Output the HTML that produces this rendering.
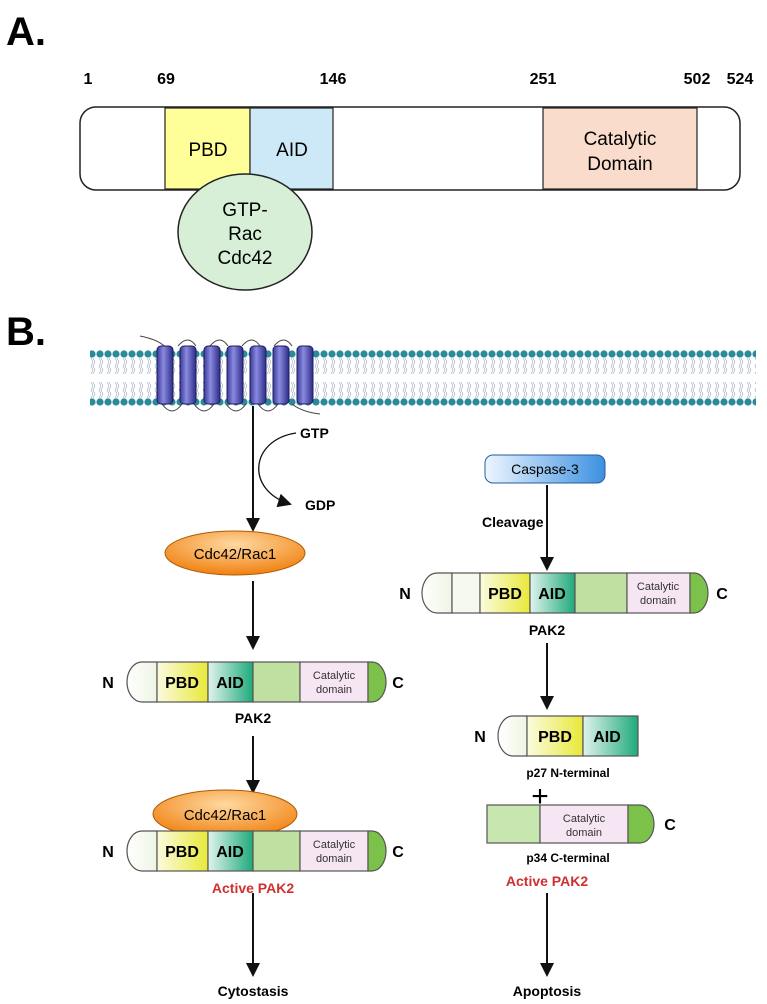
<!DOCTYPE html>
<html><head><meta charset="utf-8"><style>body{margin:0;background:#fff}svg{display:block}text{font-family:"Liberation Sans",sans-serif}</style></head><body>
<svg width="767" height="1004" viewBox="0 0 767 1004" xmlns="http://www.w3.org/2000/svg">
<defs>
<linearGradient id="pbd" x1="0" x2="1"><stop offset="0" stop-color="#fbfbe0"/><stop offset="1" stop-color="#e8e83a"/></linearGradient>
<linearGradient id="aid" x1="0" x2="1"><stop offset="0" stop-color="#e0f3ee"/><stop offset="1" stop-color="#1faa7a"/></linearGradient>
<linearGradient id="nt" x1="0" x2="1"><stop offset="0" stop-color="#fff"/><stop offset="1" stop-color="#eef5e4"/></linearGradient>
<radialGradient id="org" cx="0.5" cy="0.3" r="0.7"><stop offset="0" stop-color="#ffd9a0"/><stop offset="1" stop-color="#f08010"/></radialGradient>
<linearGradient id="casp" x1="0" x2="1"><stop offset="0" stop-color="#eef6ff"/><stop offset="1" stop-color="#3c90e0"/></linearGradient>
<linearGradient id="cyl" x1="0" x2="1"><stop offset="0" stop-color="#3a3a9a"/><stop offset="0.4" stop-color="#8a8ae0"/><stop offset="1" stop-color="#2c2c88"/></linearGradient>
<marker id="ah" markerWidth="14" markerHeight="14" refX="12" refY="7" orient="auto" markerUnits="userSpaceOnUse" viewBox="0 0 14 14"><path d="M0,0 L14,7 L0,14 z" fill="#111"/></marker>
<pattern id="lip" x="0" y="348" width="8" height="60" patternUnits="userSpaceOnUse">
<circle cx="4" cy="6" r="3.6" fill="#2a8a9a"/><circle cx="4" cy="54" r="3.6" fill="#2a8a9a"/>
<path d="M3,10 l2,4 l-2,4 l2,4 l-2,4 M5,10 l2,4 l-2,4 l2,4 l-2,4 M3,50 l2,-4 l-2,-4 l2,-4 l-2,-4 M5,50 l2,-4 l-2,-4 l2,-4 l-2,-4" stroke="#9ab" stroke-width="0.6" fill="none"/>
</pattern>
</defs>
<!-- A -->
<text x="6" y="45" font-size="40" font-weight="bold">A.</text>
<g font-size="16" font-weight="bold" text-anchor="middle">
<text x="88" y="84">1</text><text x="166" y="84">69</text><text x="333" y="84">146</text><text x="543" y="84">251</text><text x="697" y="84">502</text><text x="740" y="84">524</text></g>
<rect x="80" y="107" width="660" height="83" rx="16" fill="#fff" stroke="#222" stroke-width="1.5"/>
<rect x="165" y="108" width="85" height="81" fill="#ffff99" stroke="#222" stroke-width="1.2"/>
<rect x="250" y="108" width="83" height="81" fill="#cde9f8" stroke="#222" stroke-width="1.2"/>
<rect x="543" y="108" width="154" height="81" fill="#f9dccb" stroke="#222" stroke-width="1.2"/>
<g font-size="19" text-anchor="middle"><text x="208" y="156">PBD</text><text x="292" y="156">AID</text><text x="620" y="145">Catalytic</text><text x="620" y="170">Domain</text></g>
<ellipse cx="245" cy="232" rx="67" ry="58" fill="#d6efd6" stroke="#222" stroke-width="1.5"/>
<g font-size="19" text-anchor="middle"><text x="245" y="216">GTP-</text><text x="245" y="240">Rac</text><text x="245" y="264">Cdc42</text></g>
<!-- B -->
<text x="6" y="345" font-size="40" font-weight="bold">B.</text>
<rect x="90" y="348" width="666" height="60" fill="url(#lip)"/>
<path d="M140,336 q20,4 26,12 M178,346 q10,-12 18,0 M210,346 q10,-12 18,0 M242,346 q10,-12 18,0 M274,346 q10,-12 18,0 M162,404 q10,14 20,0 M194,404 q10,14 20,0 M226,404 q10,14 20,0 M258,404 q10,14 20,0 M292,404 q10,8 28,10" stroke="#444" stroke-width="1" fill="none"/>
<g stroke="#1c1c5c" stroke-width="1">
<rect x="157" y="346" width="16" height="58" rx="4" fill="url(#cyl)"/><rect x="180" y="346" width="16" height="58" rx="4" fill="url(#cyl)"/><rect x="204" y="346" width="16" height="58" rx="4" fill="url(#cyl)"/><rect x="227" y="346" width="16" height="58" rx="4" fill="url(#cyl)"/><rect x="250" y="346" width="16" height="58" rx="4" fill="url(#cyl)"/><rect x="273" y="346" width="16" height="58" rx="4" fill="url(#cyl)"/><rect x="297" y="346" width="16" height="58" rx="4" fill="url(#cyl)"/></g>
<g stroke="#111" stroke-width="2" fill="none">
<line x1="253" y1="406" x2="253" y2="530" marker-end="url(#ah)"/>
<path d="M296,433 C250,440 245,490 290,504" stroke-width="1.3" marker-end="url(#ah)"/>
<line x1="253" y1="581" x2="253" y2="648" marker-end="url(#ah)"/>
<line x1="253" y1="736" x2="253" y2="792" marker-end="url(#ah)"/>
<line x1="253" y1="893" x2="253" y2="975" marker-end="url(#ah)"/>
<line x1="547" y1="485" x2="547" y2="569" marker-end="url(#ah)"/>
<line x1="547" y1="643" x2="547" y2="708" marker-end="url(#ah)"/>
<line x1="547" y1="893" x2="547" y2="975" marker-end="url(#ah)"/>
</g>
<g font-size="14" font-weight="bold"><text x="300" y="438">GTP</text><text x="305" y="510">GDP</text></g>
<ellipse cx="235" cy="553" rx="70" ry="22" fill="url(#org)" stroke="#b05a00"/>
<text x="235" y="559" font-size="15" text-anchor="middle">Cdc42/Rac1</text>
<!-- bar 1 -->
<g stroke="#555" stroke-width="1.2">
<path d="M142,662 H157 V702 H142 A15,20 0 0 1 127,682 A15,20 0 0 1 142,662 Z" fill="url(#nt)"/>
<rect x="157" y="662" width="51" height="40" fill="url(#pbd)"/><rect x="208" y="662" width="45" height="40" fill="url(#aid)"/>
<rect x="253" y="662" width="47" height="40" fill="#bfe0a0"/><rect x="300" y="662" width="68" height="40" fill="#f6e6f4"/>
<path d="M368,662 H372 A14,20 0 0 1 372,702 H368 Z" fill="#7cc24a"/></g>
<g font-size="16" font-weight="bold" text-anchor="middle"><text x="182" y="688">PBD</text><text x="230" y="688">AID</text><text x="108" y="688">N</text><text x="398" y="688">C</text><text x="253" y="723" font-size="14">PAK2</text></g>
<g font-size="11" text-anchor="middle" fill="#333"><text x="334" y="679">Catalytic</text><text x="334" y="693">domain</text></g>
<!-- bar 2 -->
<ellipse cx="225" cy="814" rx="72" ry="24" fill="url(#org)" stroke="#b05a00"/>
<text x="225" y="820" font-size="15" text-anchor="middle">Cdc42/Rac1</text>
<g stroke="#555" stroke-width="1.2">
<path d="M142,831 H157 V871 H142 A15,20 0 0 1 127,851 A15,20 0 0 1 142,831 Z" fill="url(#nt)"/>
<rect x="157" y="831" width="51" height="40" fill="url(#pbd)"/><rect x="208" y="831" width="45" height="40" fill="url(#aid)"/>
<rect x="253" y="831" width="47" height="40" fill="#bfe0a0"/><rect x="300" y="831" width="68" height="40" fill="#f6e6f4"/>
<path d="M368,831 H372 A14,20 0 0 1 372,871 H368 Z" fill="#7cc24a"/></g>
<g font-size="16" font-weight="bold" text-anchor="middle"><text x="182" y="857">PBD</text><text x="230" y="857">AID</text><text x="108" y="857">N</text><text x="398" y="857">C</text><text x="253" y="893" font-size="14" fill="#d03030">Active PAK2</text><text x="253" y="996" font-size="14">Cytostasis</text></g>
<g font-size="11" text-anchor="middle" fill="#333"><text x="334" y="848">Catalytic</text><text x="334" y="862">domain</text></g>
<!-- right -->
<rect x="485" y="455" width="120" height="28" rx="8" fill="url(#casp)" stroke="#2a5a9a"/>
<text x="545" y="474" font-size="14" text-anchor="middle">Caspase-3</text>
<text x="482" y="527" font-size="14" font-weight="bold">Cleavage</text>
<g stroke="#555" stroke-width="1.2">
<path d="M437,573 H452 V613 H437 A15,20 0 0 1 422,593 A15,20 0 0 1 437,573 Z" fill="url(#nt)"/>
<rect x="452" y="573" width="28" height="40" fill="#f5f9ee"/>
<rect x="480" y="573" width="50" height="40" fill="url(#pbd)"/><rect x="530" y="573" width="45" height="40" fill="url(#aid)"/>
<rect x="575" y="573" width="52" height="40" fill="#bfe0a0"/><rect x="627" y="573" width="63" height="40" fill="#f6e6f4"/>
<path d="M690,573 H694 A14,20 0 0 1 694,613 H690 Z" fill="#7cc24a"/></g>
<g font-size="16" font-weight="bold" text-anchor="middle"><text x="505" y="599">PBD</text><text x="552" y="599">AID</text><text x="405" y="599">N</text><text x="722" y="599">C</text><text x="547" y="635" font-size="14">PAK2</text></g>
<g font-size="11" text-anchor="middle" fill="#333"><text x="658" y="590">Catalytic</text><text x="658" y="604">domain</text></g>
<g stroke="#555" stroke-width="1.2">
<path d="M513,716 H527 V756 H513 A15,20 0 0 1 498,736 A15,20 0 0 1 513,716 Z" fill="url(#nt)"/>
<rect x="527" y="716" width="56" height="40" fill="url(#pbd)"/><rect x="583" y="716" width="55" height="40" fill="url(#aid)"/></g>
<g font-size="16" font-weight="bold" text-anchor="middle"><text x="555" y="742">PBD</text><text x="607" y="742">AID</text><text x="480" y="742">N</text><text x="568" y="777" font-size="12">p27 N-terminal</text>
<text x="540" y="806" font-size="30" font-weight="normal">+</text></g>
<g stroke="#555" stroke-width="1.2">
<rect x="487" y="805" width="53" height="38" fill="#c8e6b0"/><rect x="540" y="805" width="88" height="38" fill="#f6e6f4"/>
<path d="M628,805 H640 A14,19 0 0 1 640,843 H628 Z" fill="#7cc24a"/></g>
<g font-size="11" text-anchor="middle" fill="#333"><text x="584" y="822">Catalytic</text><text x="584" y="836">domain</text></g>
<g font-size="16" font-weight="bold" text-anchor="middle"><text x="670" y="830">C</text><text x="568" y="862" font-size="12">p34 C-terminal</text><text x="547" y="886" font-size="14" fill="#d03030">Active PAK2</text><text x="547" y="996" font-size="14">Apoptosis</text></g>
</svg>
</body></html>
